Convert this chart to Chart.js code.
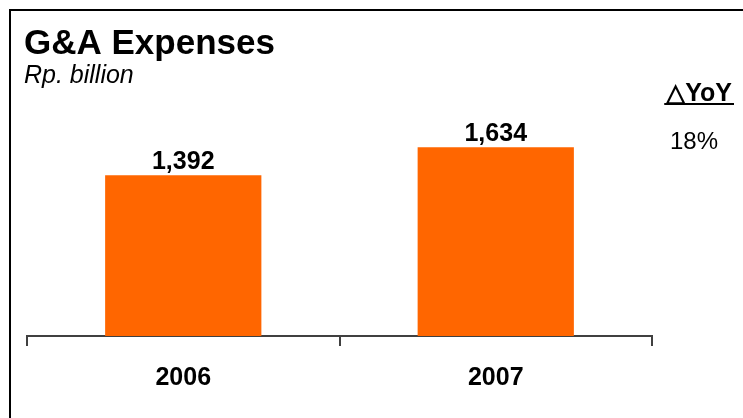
<!DOCTYPE html>
<html>
<head>
<meta charset="utf-8">
<title>G&amp;A Expenses</title>
<script src="https://cdn.jsdelivr.net/npm/chart.js@4.4.1/dist/chart.umd.min.js"></script>
<style>
  html, body { margin: 0; padding: 0; background: #fff; }
  #wrap { position: relative; width: 743px; height: 418px; }
</style>
</head>
<body>
<div id="wrap"><canvas id="expense-chart"></canvas></div>
<script>
const years = ["2006", "2007"];
const expenses = [1392, 1634];
const titleText = "G&A Expenses";
const unitText = "Rp. billion";
const yoyHeader = "\u25B3YoY";
const yoyValue = "18%";

const FONT = "'Liberation Sans', Arial, sans-serif";
const BAR_COLOR = "#FF6600";
const AXIS_COLOR = "#404040";

const formatNumber = (value) => new Intl.NumberFormat("en-US").format(value);

// frame, headings, YoY column and value labels over the bars
const decorations = {
  id: "decorations",
  afterDraw(chart) {
    const { ctx } = chart;
    ctx.save();

    ctx.strokeStyle = "#000";
    ctx.lineWidth = 2;
    ctx.beginPath();
    ctx.moveTo(10, 418);
    ctx.lineTo(10, 10);
    ctx.lineTo(743, 10);
    ctx.stroke();

    ctx.fillStyle = "#000";
    ctx.textBaseline = "alphabetic";
    ctx.textAlign = "left";
    ctx.font = `bold 35px ${FONT}`;
    ctx.fillText(titleText, 24, 54);
    ctx.font = `italic 25px ${FONT}`;
    ctx.fillText(unitText, 24, 83);

    ctx.font = `bold 25px ${FONT}`;
    const headerWidth = ctx.measureText(yoyHeader).width;
    const headerX = 732 - headerWidth;
    ctx.fillText(yoyHeader, headerX, 101);
    ctx.fillRect(headerX - 2, 103, headerWidth + 4, 2);

    ctx.font = `24px ${FONT}`;
    ctx.textAlign = "center";
    ctx.fillText(yoyValue, 694, 149);

    const meta = chart.getDatasetMeta(0);
    ctx.font = `bold 25px ${FONT}`;
    meta.data.forEach((bar, idx) => {
      ctx.fillText(formatNumber(expenses[idx]), bar.x, bar.y - 6);
    });

    ctx.restore();
  },
};

new Chart(document.getElementById("expense-chart"), {
  type: "bar",
  data: {
    labels: years,
    datasets: [
      {
        data: expenses,
        backgroundColor: BAR_COLOR,
        borderWidth: 0,
        categoryPercentage: 1,
        barPercentage: 0.5,
      },
    ],
  },
  options: {
    responsive: true,
    maintainAspectRatio: false,
    animation: false,
    layout: {
      padding: { left: 27, right: 91, top: 105, bottom: 0 },
    },
    scales: {
      x: {
        afterFit: (scale) => {
          scale.height = 82;
        },
        grid: {
          display: true,
          offset: true,
          drawOnChartArea: false,
          drawTicks: true,
          tickLength: 10,
          color: AXIS_COLOR,
          lineWidth: 2,
        },
        border: { display: true, color: AXIS_COLOR, width: 2 },
        ticks: {
          color: "#000",
          padding: 17,
          font: { family: FONT, size: 25, weight: "bold" },
        },
      },
      y: {
        display: false,
        min: 0,
        max: 2000,
      },
    },
    plugins: {
      legend: { display: false },
      tooltip: { enabled: false },
    },
  },
  plugins: [decorations],
});
</script>
</body>
</html>
